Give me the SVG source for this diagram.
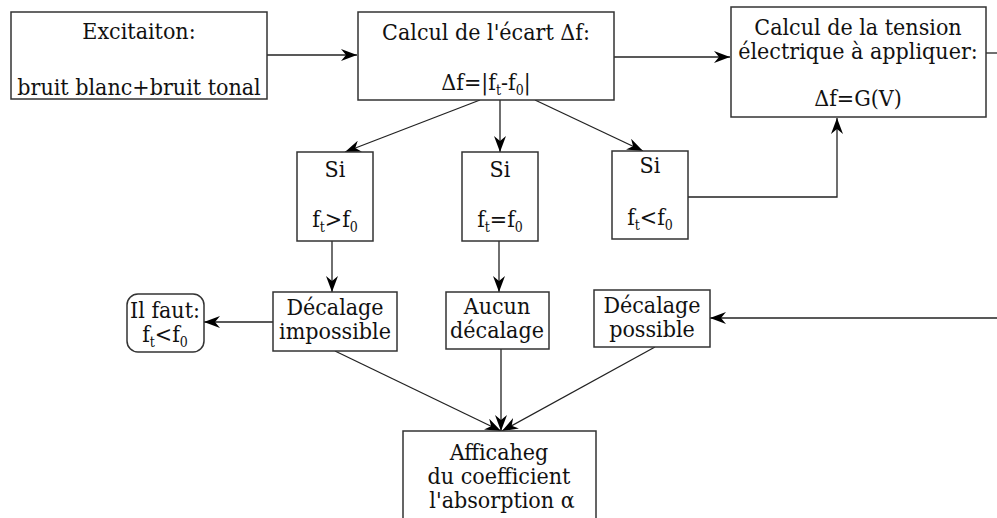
<svg xmlns="http://www.w3.org/2000/svg" width="997" height="518" viewBox="0 0 997 518">
<defs>
<style>
.box{fill:#fff;stroke:#333;stroke-width:1.5}
.t{font-size:23px;fill:#111;text-anchor:middle;font-stretch:condensed}
.s{font-size:14px}
.c{fill:none;stroke:#222;stroke-width:1.3}
</style>
<marker id="ar" markerUnits="userSpaceOnUse" markerWidth="17" markerHeight="12" refX="16" refY="6" orient="auto">
<path d="M0,0 L16,6 L0,12 L5,6 z" fill="#000"/>
</marker>
</defs>
<rect width="997" height="518" fill="#fff"/>
<g id="connectors">
<line class="c" x1="267" y1="55" x2="357" y2="55" marker-end="url(#ar)"/>
<line class="c" x1="614" y1="57" x2="730" y2="57" marker-end="url(#ar)"/>
<line class="c" x1="986" y1="53" x2="997" y2="53"/>
<line class="c" x1="480" y1="100" x2="345" y2="152" marker-end="url(#ar)"/>
<line class="c" x1="500" y1="100" x2="500" y2="152" marker-end="url(#ar)"/>
<line class="c" x1="535" y1="100" x2="643" y2="151" marker-end="url(#ar)"/>
<polyline class="c" points="688,197 837,197 837,118" marker-end="url(#ar)"/>
<line class="c" x1="332" y1="241" x2="332" y2="292" marker-end="url(#ar)"/>
<line class="c" x1="499" y1="241" x2="499" y2="292" marker-end="url(#ar)"/>
<line class="c" x1="273" y1="322" x2="204" y2="322" marker-end="url(#ar)"/>
<line class="c" x1="997" y1="318" x2="710" y2="318" marker-end="url(#ar)"/>
<line class="c" x1="335" y1="351" x2="501" y2="431" marker-end="url(#ar)"/>
<line class="c" x1="501" y1="349" x2="501" y2="431" marker-end="url(#ar)"/>
<line class="c" x1="655" y1="347" x2="502" y2="431" marker-end="url(#ar)"/>
</g>
<g font-family="DejaVu Serif, serif">
<g id="excitation">
<rect class="box" x="11" y="12" width="256" height="87"/>
<text class="t" x="139" y="39">Excitaiton:</text>
<text class="t" x="139" y="95">bruit blanc+bruit tonal</text>
</g>
<g id="ecart">
<rect class="box" x="358" y="12" width="256" height="88"/>
<text class="t" x="486" y="40">Calcul de l'écart Δf:</text>
<text class="t" x="486" y="90">Δf=|f<tspan class="s" dy="5">t</tspan><tspan dy="-5">-f</tspan><tspan class="s" dy="5">0</tspan><tspan dy="-5">|</tspan></text>
</g>
<g id="tension">
<rect class="box" x="731" y="7" width="255" height="110"/>
<text class="t" x="858" y="35">Calcul de la tension</text>
<text class="t" x="858" y="59">électrique à appliquer:</text>
<text class="t" x="858" y="106">Δf=G(V)</text>
</g>
<g id="si-sup">
<rect class="box" x="297" y="152" width="76" height="89"/>
<text class="t" x="335" y="177">Si</text>
<text class="t" x="335" y="227">f<tspan class="s" dy="5">t</tspan><tspan dy="-5">&gt;f</tspan><tspan class="s" dy="5">0</tspan></text>
</g>
<g id="si-eq">
<rect class="box" x="462" y="152" width="76" height="89"/>
<text class="t" x="500" y="177">Si</text>
<text class="t" x="500" y="227">f<tspan class="s" dy="5">t</tspan><tspan dy="-5">=f</tspan><tspan class="s" dy="5">0</tspan></text>
</g>
<g id="si-inf">
<rect class="box" x="612" y="151" width="76" height="88"/>
<text class="t" x="650" y="173">Si</text>
<text class="t" x="650" y="225">f<tspan class="s" dy="5">t</tspan><tspan dy="-5">&lt;f</tspan><tspan class="s" dy="5">0</tspan></text>
</g>
<g id="decalage-impossible">
<rect class="box" x="273" y="292" width="124" height="59"/>
<text class="t" x="335" y="315">Décalage</text>
<text class="t" x="335" y="339">impossible</text>
</g>
<g id="il-faut">
<rect class="box" x="127" y="294" width="77" height="58" rx="11" ry="11"/>
<text class="t" x="165" y="318">Il faut:</text>
<text class="t" x="165" y="342">f<tspan class="s" dy="5">t</tspan><tspan dy="-5">&lt;f</tspan><tspan class="s" dy="5">0</tspan></text>
</g>
<g id="aucun-decalage">
<rect class="box" x="446" y="292" width="103" height="57"/>
<text class="t" x="497" y="314">Aucun</text>
<text class="t" x="497" y="338">décalage</text>
</g>
<g id="decalage-possible">
<rect class="box" x="594" y="290" width="116" height="57"/>
<text class="t" x="652" y="313">Décalage</text>
<text class="t" x="652" y="337">possible</text>
</g>
<g id="affichage">
<rect class="box" x="403" y="431" width="193" height="110"/>
<text class="t" x="499" y="460">Afficaheg</text>
<text class="t" x="499" y="484">du coefficient</text>
<text class="t" x="502" y="508">l'absorption α</text>
</g>
</g>
</svg>
